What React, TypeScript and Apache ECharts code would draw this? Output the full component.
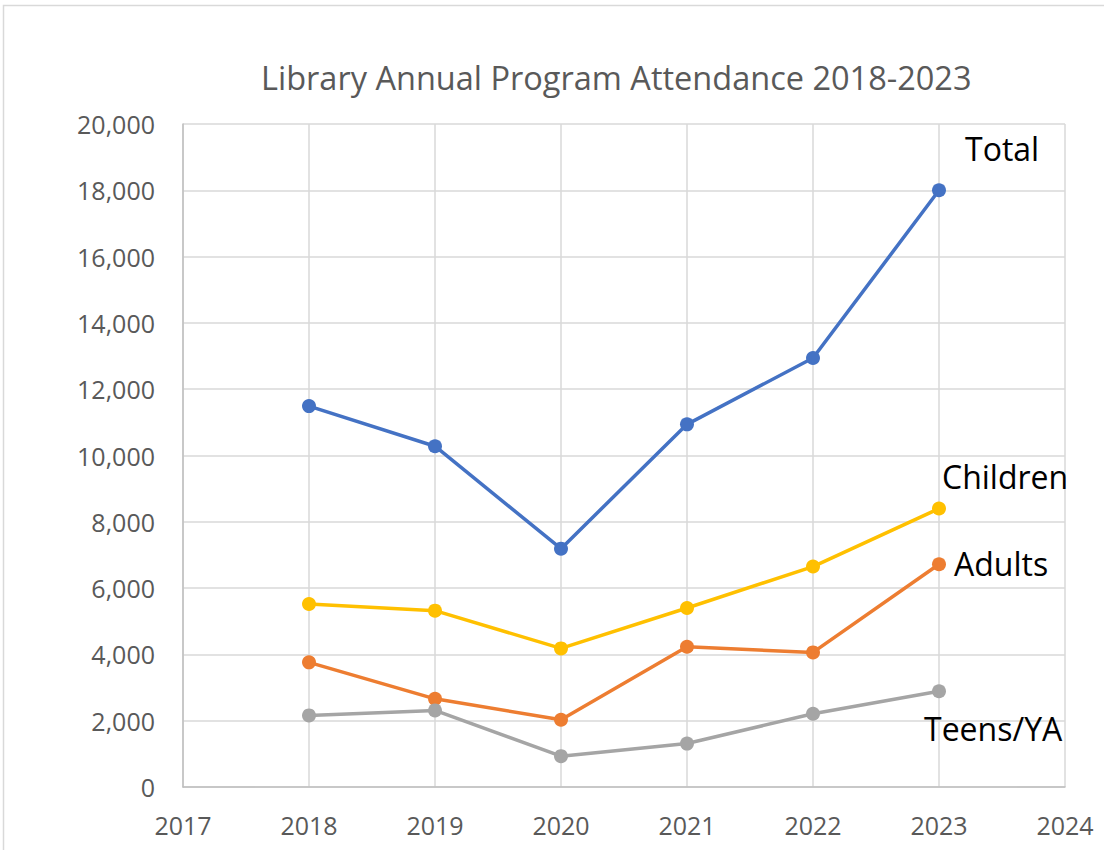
import React, { useEffect, useRef } from "react";
import * as echarts from "echarts";

const years = [2018, 2019, 2020, 2021, 2022, 2023];
const totalValues = [11490, 10280, 7190, 10940, 12940, 18000];
const childrenValues = [5520, 5320, 4180, 5400, 6650, 8400];
const adultsValues = [3760, 2660, 2030, 4230, 4060, 6720];
const teensValues = [2160, 2310, 930, 1310, 2210, 2890];

const FONT = "'Open Sans', 'Noto Sans', sans-serif";

type LabelCfg = { distance: number; offset: [number, number] };

function makeSeries(name: string, values: number[], color: string, lab: LabelCfg) {
  return {
    name,
    type: "line",
    symbol: "circle",
    symbolSize: 14,
    lineStyle: { color, width: 3.5 },
    itemStyle: { color },
    data: values.map((v, i) => {
      const item: any = { value: [years[i], v] };
      if (i === values.length - 1) {
        item.label = {
          show: true,
          formatter: name,
          position: "right",
          distance: lab.distance,
          offset: lab.offset,
          color: "#000000",
          fontSize: 32,
          fontFamily: FONT,
        };
      }
      return item;
    }),
  };
}

export default function App() {
  const ref = useRef<HTMLDivElement>(null);
  useEffect(() => {
    if (!ref.current) return;
    const chart = echarts.init(ref.current, undefined, { renderer: "svg" });
    chart.setOption({
      animation: false,
      backgroundColor: "#ffffff",
      title: {
        text: "Library Annual Program Attendance 2018-2023",
        left: 256,
        top: 56,
        textStyle: { color: "#595959", fontSize: 32.5, fontWeight: "normal", fontFamily: FONT },
      },
      graphic: [
        {
          type: "rect",
          shape: { x: 3.5, y: 5.5, width: 1300, height: 1000 },
          style: { fill: "none", stroke: "#d9d9d9", lineWidth: 1.5 },
          silent: true,
        },
      ],
      grid: { left: 183, right: 39, top: 124, bottom: 63, containLabel: false },
      xAxis: {
        type: "value",
        min: 2017,
        max: 2024,
        interval: 1,
        axisLine: { show: true, lineStyle: { color: "#bfbfbf", width: 1.5 } },
        axisTick: { show: false },
        splitLine: { show: true, lineStyle: { color: "#d9d9d9", width: 1.5 } },
        axisLabel: {
          color: "#595959",
          fontSize: 25,
          fontFamily: FONT,
          margin: 25,
          formatter: (v: number) => String(v),
        },
      },
      yAxis: {
        type: "value",
        min: 0,
        max: 20000,
        interval: 2000,
        axisLine: { show: true, lineStyle: { color: "#bfbfbf", width: 1.5 } },
        axisTick: { show: false },
        splitLine: { show: true, lineStyle: { color: "#d9d9d9", width: 1.5 } },
        axisLabel: {
          color: "#595959",
          fontSize: 25,
          fontFamily: FONT,
          margin: 28,
          formatter: (v: number) => v.toLocaleString("en-US"),
        },
      },
      series: [
        makeSeries("Total", totalValues, "#4472C4", { distance: 19, offset: [0, -42] }),
        makeSeries("Children", childrenValues, "#FFC000", { distance: -4, offset: [0, -32] }),
        makeSeries("Adults", adultsValues, "#ED7D31", { distance: 8, offset: [0, -1] }),
        makeSeries("Teens/YA", teensValues, "#A5A5A5", { distance: -22, offset: [0, 37] }),
      ],
    });
    return () => chart.dispose();
  }, []);
  return (
    <div
      ref={ref}
      style={{ position: "fixed", left: 0, top: 0, width: 1104, height: 850 }}
    />
  );
}
